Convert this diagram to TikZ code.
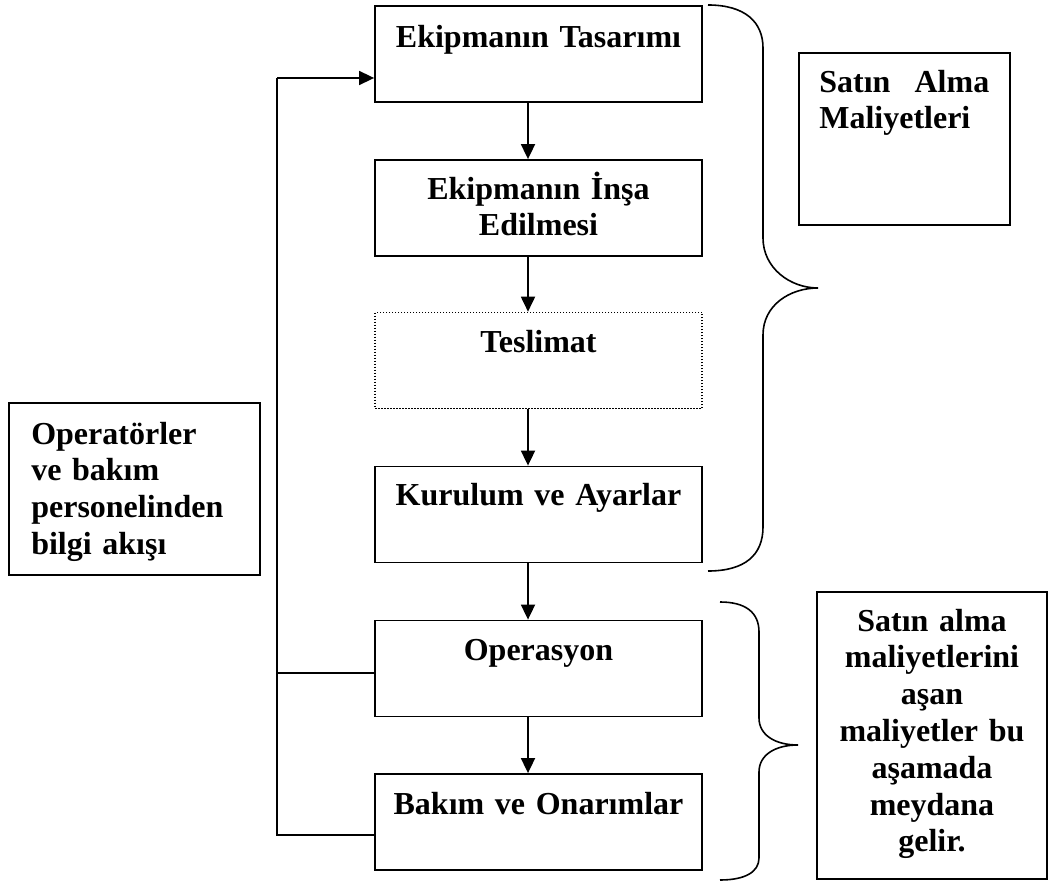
\documentclass[tikz,border=0pt]{standalone}
\usepackage{fontspec}
\setmainfont{Liberation Serif}
\usetikzlibrary{arrows.meta}
\begin{document}
\begin{tikzpicture}[x=1pt,y=-1pt,
  stepbox/.style={draw, line width=1.8pt, rectangle, minimum width=327pt, minimum height=96pt, inner sep=0pt},
  dotbox/.style={stepbox, line width=1.6pt, dash pattern=on 1.5pt off 1.5pt},
  notebox/.style={draw, line width=1.8pt, rectangle, inner sep=0pt},
  lbl/.style={font=\bfseries\fontsize{32}{36.8}\selectfont, inner sep=0pt, anchor=base, text width=320pt, align=center},
  arr/.style={line width=1.8pt, -{Triangle[length=15pt,width=14pt]}},
  fb/.style={line width=1.5pt},
  brace/.style={line width=1.6pt}]
\useasboundingbox (0,0) rectangle (1050,890);

% process steps
\node[stepbox] (b1) at (538.5,54) {};
\node[stepbox] (b2) at (538.5,208) {};
\node[dotbox]  (b3) at (538.5,360.5) {};
\node[stepbox] (b4) at (538.5,514.5) {};
\node[stepbox] (b5) at (538.5,668.5) {};
\node[stepbox] (b6) at (538.5,822) {};

\node[lbl] (t1) at ([yshift=-42pt]b1.north) {Ekipmanın Tasarımı};
\node[lbl] (t2) at ([yshift=-40pt]b2.north) {Ekipmanın İnşa\\Edilmesi};
\node[lbl] (t3) at ([yshift=-41pt]b3.north) {Teslimat};
\node[lbl] (t4) at ([yshift=-40pt]b4.north) {Kurulum ve Ayarlar};
\node[lbl] (t5) at ([yshift=-41pt]b5.north) {Operasyon};
\node[lbl] (t6) at ([yshift=-41pt]b6.north) {Bakım ve Onarımlar};

% side notes
\node[notebox, minimum width=211pt, minimum height=172pt] (sa) at (904.5,139) {};
\node[lbl, text width=170pt, align=left, anchor=base west] (sat) at ([xshift=21pt,yshift=-40pt]sa.north west) {Satın\hfill Alma\\Maliyetleri};

\node[notebox, minimum width=251pt, minimum height=172pt] (op) at (134.5,489) {};
\node[lbl, text width=225pt, align=left, anchor=base west] (opt) at ([xshift=23pt,yshift=-42pt]op.north west) {Operatörler\\ve bakım\\personelinden\\bilgi akışı};

\node[notebox, minimum width=230pt, minimum height=287pt] (sb) at (932,735.5) {};
\node[lbl, text width=220pt] (sbt) at ([yshift=-40pt]sb.north) {Satın alma\\maliyetlerini\\aşan\\maliyetler bu\\aşamada\\meydana\\gelir.};

% flow arrows
\coordinate (ax) at (528,0);
\draw[arr] (b1.south -| ax) -- (b2.north -| ax);
\draw[arr] (b2.south -| ax) -- (b3.north -| ax);
\draw[arr] (b3.south -| ax) -- (b4.north -| ax);
\draw[arr] (b4.south -| ax) -- (b5.north -| ax);
\draw[arr] (b5.south -| ax) -- (b6.north -| ax);

% feedback loop
\coordinate (j1) at (277,673);
\coordinate (j2) at (277,835);
\coordinate (jt) at (277,78);
\draw[fb] (b5.west |- j1) -- (j1);
\draw[fb] (b6.west |- j2) -- (j2) -- (jt);
\draw[arr, line width=1.6pt] (jt) -- (b1.west |- jt);

% braces
\draw[brace] (708,5) .. controls (745,5) and (763,22) .. (763,48) -- (763,238)
  .. controls (763,268) and (790,288) .. (818,288)
  .. controls (790,288) and (763,305) .. (763,335) -- (763,527)
  .. controls (763,555) and (745,571) .. (708,571);
\draw[brace] (720,602) .. controls (745,602) and (759,612) .. (759,632) -- (759,718)
  .. controls (759,735) and (775,745) .. (798,745)
  .. controls (775,745) and (759,755) .. (759,772) -- (759,858)
  .. controls (759,872) and (745,880) .. (720,880);
\end{tikzpicture}
\end{document}
